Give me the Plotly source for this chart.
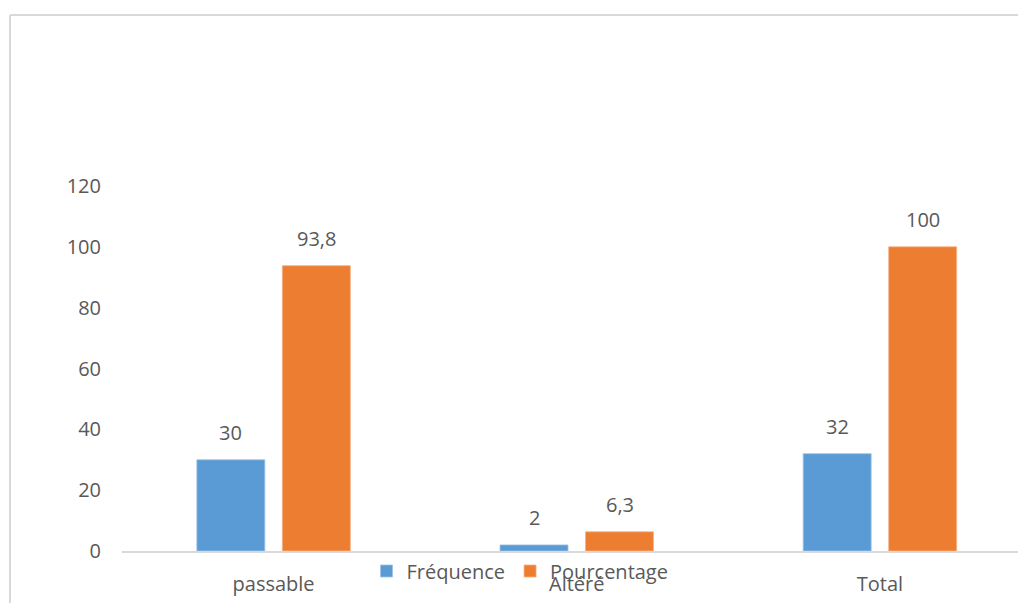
import plotly.graph_objects as go

categories = ["passable", "Altéré", "Total"]
frequence = [30, 2, 32]
pourcentage = [93.8, 6.3, 100]
freq_labels = ["30", "2", "32"]
pct_labels = ["93,8", "6,3", "100"]
y_ticks = [0, 20, 40, 60, 80, 100, 120]

W, H = 1018, 603
L, R_, T, B = 122, 0, 186, 52
TXT = "#595959"
FONT = "Open Sans"
FS = 20

fig = go.Figure()
fig.add_trace(go.Bar(name="Fréquence", x=categories, y=frequence,
                     marker=dict(color="#5B9BD5", line=dict(color="#9DC3E6", width=0.8))))
fig.add_trace(go.Bar(name="Pourcentage", x=categories, y=pourcentage,
                     marker=dict(color="#ED7D31", line=dict(color="#F4B183", width=0.8))))

slot = 85.5
for vals, labs, sh in [(frequence, freq_labels, -slot / 2), (pourcentage, pct_labels, slot / 2)]:
    for c, v, t in zip(categories, vals, labs):
        fig.add_annotation(x=c, y=v, text=t, showarrow=False, xshift=sh, yshift=27,
                           yanchor="middle", xanchor="center",
                           font=dict(family=FONT, size=FS, color=TXT))

plot_w = W - L - R_
plot_h = H - T - B
# chart border lines (top and left)
left_px, top_px = 10, 15
px = (left_px - L) / plot_w
py = (H - B - top_px) / plot_h
fig.add_shape(type="line", xref="paper", yref="paper", x0=px, x1=1.05, y0=py, y1=py,
              line=dict(color="#D9D9D9", width=2))
fig.add_shape(type="line", xref="paper", yref="paper", x0=px, x1=px, y0=py, y1=-0.2,
              line=dict(color="#D9D9D9", width=2))

fig.update_layout(
    width=W, height=H,
    margin=dict(l=L, r=R_, t=T, b=B, pad=0),
    paper_bgcolor="white", plot_bgcolor="white",
    barmode="group", bargap=0.436, bargroupgap=0.205,
    font=dict(family=FONT, size=FS, color=TXT),
    showlegend=True,
    legend=dict(orientation="h", x=(520 - L) / plot_w, xanchor="center",
                y=(H - B - 571) / plot_h, yanchor="middle",
                bgcolor="rgba(0,0,0,0)", font=dict(family=FONT, size=FS, color=TXT),
                itemwidth=30, traceorder="normal"),
    xaxis=dict(range=[-0.5, 2.5 - 13.5 / 303], showgrid=False, zeroline=False,
               showline=True, linecolor="#D9D9D9", linewidth=2, ticks="",
               ticklabelstandoff=14, tickfont=dict(family=FONT, size=FS, color=TXT)),
    yaxis=dict(range=[0, 120], tickvals=y_ticks, showgrid=False, zeroline=False,
               showline=False, ticks="", ticklabelstandoff=20,
               tickfont=dict(family=FONT, size=FS, color=TXT)),
    hovermode=False,
)
fig.write_html("out.html")
